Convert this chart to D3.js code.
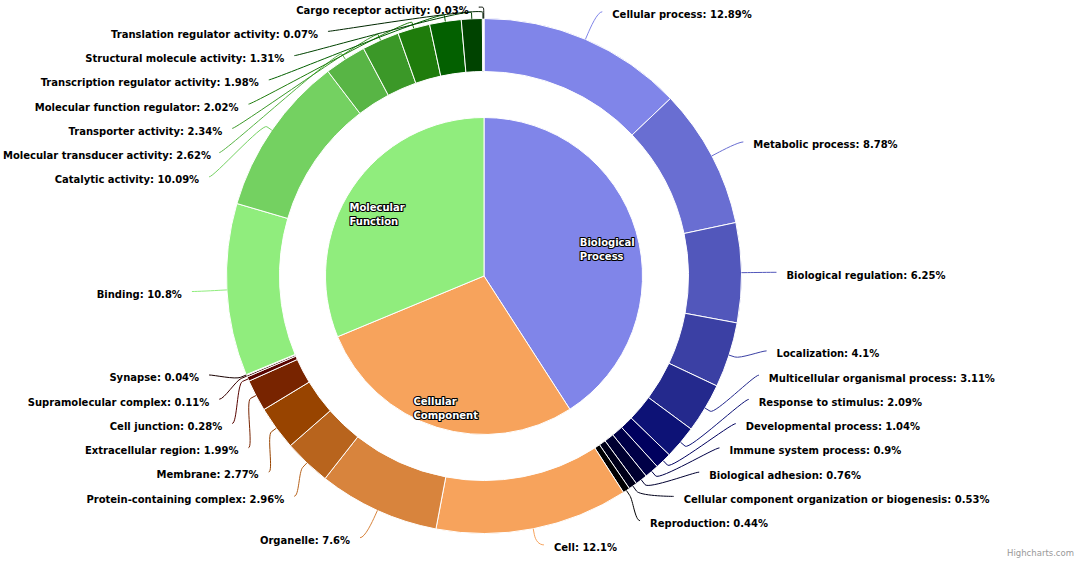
<!DOCTYPE html>
<html>
<head>
<meta charset="utf-8">
<script src="https://cdn.jsdelivr.net/npm/d3@7"></script>
<style>
  html, body { margin: 0; padding: 0; background: #fff; }
  svg { display: block; font-family: "DejaVu Sans", sans-serif; }
</style>
</head>
<body>
<div id="chart"></div>
<script>
// GO categories (inner pie)
var categories = ['Biological Process', 'Cellular Component', 'Molecular Function'];

// GO terms per category (outer ring), % of annotated genes
var bpTerms = ['Cellular process', 'Metabolic process', 'Biological regulation', 'Localization',
    'Multicellular organismal process', 'Response to stimulus', 'Developmental process',
    'Immune system process', 'Biological adhesion',
    'Cellular component organization or biogenesis', 'Reproduction'];
var bpValues = [12.89, 8.78, 6.25, 4.1, 3.11, 2.09, 1.04, 0.9, 0.76, 0.53, 0.44];

var ccTerms = ['Cell', 'Organelle', 'Protein-containing complex', 'Membrane',
    'Extracellular region', 'Cell junction', 'Supramolecular complex', 'Synapse'];
var ccValues = [12.1, 7.6, 2.96, 2.77, 1.99, 0.28, 0.11, 0.04];

var mfTerms = ['Binding', 'Catalytic activity', 'Molecular transducer activity',
    'Transporter activity', 'Molecular function regulator', 'Transcription regulator activity',
    'Structural molecule activity', 'Translation regulator activity', 'Cargo receptor activity'];
var mfValues = [10.8, 10.09, 2.62, 2.34, 2.02, 1.98, 1.31, 0.07, 0.03];

var baseColors = ['#8085e9', '#f7a35c', '#90ed7d'];

// layout
var svgWidth = 1084, svgHeight = 563;
var cx = 484, cy = 276;
var pieRadius = 158.5, ringInner = 204.5, ringOuter = 257.5;
var labelDistance = 30, labelBox = 24.25;
var labelTop = -5, labelBottom = 557;
var fontSize = '10px';

var termGroups = [
    { terms: bpTerms, values: bpValues },
    { terms: ccTerms, values: ccValues },
    { terms: mfTerms, values: mfValues }
];

// same as highcharts Color.brighten - additive on each channel
function brighten(hex, amount) {
    var c = d3.rgb(hex);
    var delta = Math.trunc(amount * 255);
    return d3.rgb(c.r + delta, c.g + delta, c.b + delta).formatHex();
}

var innerData = categories.map(function (name, i) {
    return { name: name, value: d3.sum(termGroups[i].values), color: baseColors[i] };
});

var outerData = [];
termGroups.forEach(function (g, i) {
    g.terms.forEach(function (t, j) {
        outerData.push({
            name: t,
            value: g.values[j],
            color: brighten(baseColors[i], -j / g.terms.length)
        });
    });
});

var svg = d3.select('#chart').append('svg')
    .attr('width', svgWidth)
    .attr('height', svgHeight);

var chartGroup = svg.append('g');

var pie = d3.pie()
    .value(function (d) { return d.value; })
    .sort(null);

var innerArc = d3.arc().innerRadius(0).outerRadius(pieRadius);
var outerArc = d3.arc().innerRadius(ringInner).outerRadius(ringOuter);

var innerSlices = pie(innerData);
var outerSlices = pie(outerData);

chartGroup.append('g')
    .attr('transform', 'translate(' + cx + ',' + cy + ')')
    .selectAll('path')
    .data(innerSlices)
    .enter().append('path')
    .attr('d', innerArc)
    .attr('fill', function (d) { return d.data.color; })
    .attr('stroke', '#fff')
    .attr('stroke-width', 1)
    .attr('stroke-linejoin', 'round');

chartGroup.append('g')
    .attr('transform', 'translate(' + cx + ',' + cy + ')')
    .selectAll('path')
    .data(outerSlices)
    .enter().append('path')
    .attr('d', outerArc)
    .attr('fill', function (d) { return d.data.color; })
    .attr('stroke', '#fff')
    .attr('stroke-width', 1)
    .attr('stroke-linejoin', 'round');

// ---- outer labels, placed like highcharts pie (distribute per half) ----
var R = ringOuter + labelDistance;

function getX(y, left) {
    var ang = Math.asin(Math.max(-1, Math.min(1, (y - cy) / R)));
    return cx + (left ? -1 : 1) * (Math.cos(ang) * R + 5);
}

function distribute(boxes, lo, hi) {
    boxes.sort(function (a, b) { return a.target - b.target; });
    var groups = boxes.map(function (b) {
        return { targets: [b.target], size: b.size, items: [b] };
    });
    var overlapping = true;
    while (overlapping) {
        groups.forEach(function (g) {
            var t = (d3.min(g.targets) + d3.max(g.targets)) / 2;
            g.pos = Math.min(Math.max(lo, t - g.size / 2), hi - g.size);
        });
        overlapping = false;
        for (var i = groups.length - 1; i > 0; i--) {
            var prev = groups[i - 1], cur = groups[i];
            if (prev.pos + prev.size > cur.pos) {
                prev.size += cur.size;
                prev.targets = prev.targets.concat(cur.targets);
                prev.items = prev.items.concat(cur.items);
                if (prev.pos + prev.size > hi) prev.pos = hi - prev.size;
                groups.splice(i, 1);
                overlapping = true;
            }
        }
    }
    groups.forEach(function (g) {
        var p = g.pos;
        g.items.forEach(function (b) {
            b.top = p;
            b.y = p + b.size / 2;
            p += b.size;
        });
    });
}

var labels = outerSlices.map(function (d) {
    var a = (d.startAngle + d.endAngle) / 2;
    return {
        slice: d,
        angle: a,
        left: a > Math.PI,
        target: cy - Math.cos(a) * R,
        size: labelBox
    };
});

distribute(labels.filter(function (l) { return !l.left; }), labelTop, labelBottom);
distribute(labels.filter(function (l) { return l.left; }), labelTop, labelBottom);

labels.forEach(function (l) {
    // labels at the very top / bottom keep their natural x
    var atEdge = l.top < labelTop + 2 || l.top + l.size > labelBottom - 2;
    l.x = getX(atEdge ? l.target : l.y, l.left);
});

var connectors = chartGroup.append('g');
labels.forEach(function (l) {
    var s = Math.sin(l.angle), c = -Math.cos(l.angle);
    var tx = cx + s * ringOuter, ty = cy + c * ringOuter;
    var bx = cx + s * (ringOuter + 6), by = cy + c * (ringOuter + 6);
    var p = d3.path();
    p.moveTo(l.x, l.y);
    p.bezierCurveTo(l.x + (l.left ? 5 : -5), l.y, 2 * bx - tx, 2 * by - ty, bx, by);
    p.lineTo(tx, ty);
    connectors.append('path')
        .attr('d', p.toString())
        .attr('fill', 'none')
        .attr('stroke', l.slice.data.color)
        .attr('stroke-width', 1);
});

chartGroup.append('g')
    .selectAll('text')
    .data(labels)
    .enter().append('text')
    .attr('x', function (l) { return l.x + (l.left ? -10 : 10); })
    .attr('y', function (l) { return l.y + 3; })
    .attr('dy', '0.35em')
    .attr('text-anchor', function (l) { return l.left ? 'end' : 'start'; })
    .style('font-size', fontSize)
    .style('font-weight', 'bold')
    .attr('fill', '#000')
    .text(function (l) { return l.slice.data.name + ': ' + l.slice.data.value + '%'; })
    .each(function (l) {
        // keep long labels inside the svg
        var w = this.getComputedTextLength();
        var x = +d3.select(this).attr('x');
        if (l.left && x - w < 3) d3.select(this).attr('x', 3 + w);
        if (!l.left && x + w > svgWidth - 3) d3.select(this).attr('x', svgWidth - 3 - w);
    });

// ---- inner labels (inside the slices, white with dark outline) ----
innerSlices.forEach(function (d) {
    var a = (d.startAngle + d.endAngle) / 2;
    var r = pieRadius - 30;
    var px = cx + Math.sin(a) * r, py = cy - Math.cos(a) * r;
    var lines = d.data.name.split(' ');
    var text = chartGroup.append('text')
        .style('font-size', fontSize)
        .style('font-weight', 'bold')
        .attr('fill', '#fff')
        .attr('stroke', '#000')
        .attr('stroke-width', 2.2)
        .attr('stroke-linejoin', 'round')
        .attr('paint-order', 'stroke');
    lines.forEach(function (line, i) {
        text.append('tspan')
            .attr('x', 0)
            .attr('y', py + 2.5 + i * 14)
            .attr('dy', '0.35em')
            .text(line);
    });
    var w = d3.max(text.selectAll('tspan').nodes(), function (n) {
        return n.getComputedTextLength();
    });
    text.selectAll('tspan').attr('x', px - w / 2);
});

// credits
svg.append('text')
    .attr('x', 1074)
    .attr('y', 556)
    .attr('text-anchor', 'end')
    .style('font-size', '8.5px')
    .attr('fill', '#999')
    .text('Highcharts.com');
</script>
</body>
</html>
